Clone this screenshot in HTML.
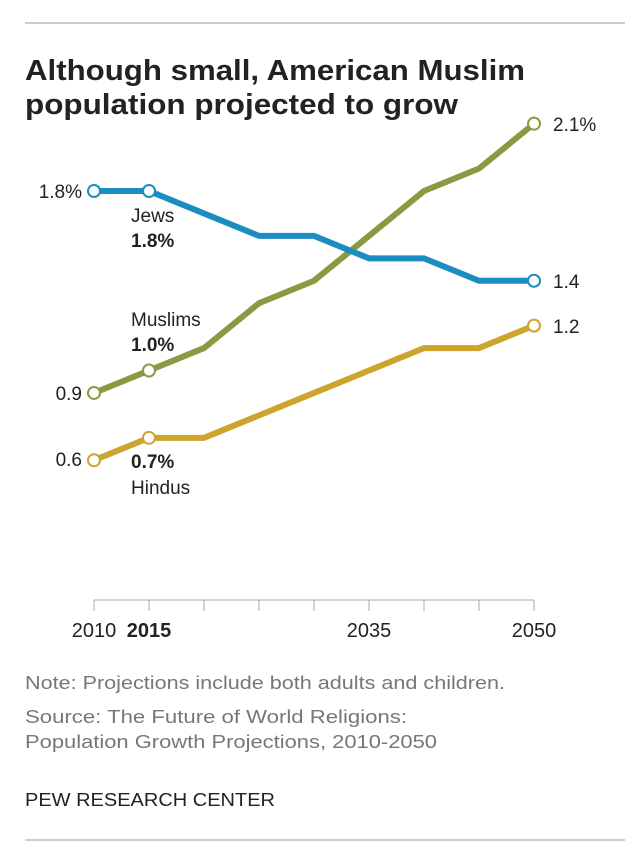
<!DOCTYPE html>
<html><head><meta charset="utf-8"><style>
html,body{margin:0;padding:0;background:#fff;}
svg text{font-family:"Liberation Sans",sans-serif;}
</style></head><body>
<svg width="640" height="856" viewBox="0 0 640 856">
<line x1="25" y1="23" x2="625" y2="23" stroke="#ccc" stroke-width="2"/>
<text x="25" y="80" font-size="29" font-weight="bold" fill="#222" textLength="500" lengthAdjust="spacingAndGlyphs">Although small, American Muslim</text>
<text x="25" y="114" font-size="29" font-weight="bold" fill="#222" textLength="433" lengthAdjust="spacingAndGlyphs">population projected to grow</text>
<g id="plot"></g>
<text x="25" y="689" font-size="18" fill="#777" textLength="480" lengthAdjust="spacingAndGlyphs">Note: Projections include both adults and children.</text>
<text x="25" y="723" font-size="18" fill="#777" textLength="382" lengthAdjust="spacingAndGlyphs">Source: The Future of World Religions:</text>
<text x="25" y="748" font-size="18" fill="#777" textLength="412" lengthAdjust="spacingAndGlyphs">Population Growth Projections, 2010-2050</text>
<text x="25" y="806" font-size="18" fill="#222" textLength="250" lengthAdjust="spacingAndGlyphs">PEW RESEARCH CENTER</text>
<line x1="25" y1="840" x2="625" y2="840" stroke="#ccc" stroke-width="2"/>
</svg>
<script>
const years=[2010,2015,2020,2025,2030,2035,2040,2045,2050];
const jews=[1.8,1.8,1.7,1.6,1.6,1.5,1.5,1.4,1.4];
const muslims=[0.9,1.0,1.1,1.3,1.4,1.6,1.8,1.9,2.1];
const hindus=[0.6,0.7,0.7,0.8,0.9,1.0,1.1,1.1,1.2];
const tickLabels=["2010","2015","2035","2050"];
const ns="http://www.w3.org/2000/svg";
const g=document.getElementById('plot');
const x=y=>94+(y-2010)*11;
const yv=v=>191-(v-1.8)*224.4;
function mk(t,a,p){const e=document.createElementNS(ns,t);for(const k in a)e.setAttribute(k,a[k]);(p||g).appendChild(e);return e;}
let ax=mk('line',{x1:94,y1:600,x2:534,y2:600,stroke:'#aaa','stroke-width':1});


years.forEach(yr=>{const t=mk('line',{x1:x(yr),y1:600,x2:x(yr),y2:611,stroke:'#aaa','stroke-width':1});

});
tickLabels.forEach(l=>{const t=mk('text',{x:x(+l),y:637,'font-size':20,'text-anchor':'middle',fill:'#222','font-weight':l==='2015'?'bold':'normal'});t.textContent=l;

});
const series=[['hindus',hindus,'#cca42e'],['muslims',muslims,'#8a9a42'],['jews',jews,'#1b8dc0']];
series.forEach(([n,d,c])=>{
const p=mk('polyline',{points:d.map((v,i)=>x(years[i])+','+yv(v)).join(' '),fill:'none',stroke:c,'stroke-width':6,'stroke-linejoin':'miter'});


[0,1,8].forEach(i=>{const m=mk('circle',{cx:x(years[i]),cy:yv(d[i]),r:6,fill:'#fff',stroke:c,'stroke-width':2});

});
});
function lab(s,xx,yy,anchor,bold,name){const t=mk('text',{x:xx,y:yy,'font-size':19,fill:'#222','text-anchor':anchor||'start','font-weight':bold?'bold':'normal'});t.textContent=s;

}
lab(jews[0].toFixed(1)+'%',82,198,'end',false,'jews-start-label');
lab(muslims[0].toFixed(1),82,400,'end',false,'muslims-start-label');
lab(hindus[0].toFixed(1),82,466,'end',false,'hindus-start-label');
lab(muslims[8].toFixed(1)+'%',553,131,'start',false,'muslims-end-label');
lab(jews[8].toFixed(1),553,288,'start',false,'jews-end-label');
lab(hindus[8].toFixed(1),553,333,'start',false,'hindus-end-label');
lab('Jews',131,222,'start',false,'jews-name');
lab(jews[1].toFixed(1)+'%',131,247,'start',true,'jews-2015-value');
lab('Muslims',131,326,'start',false,'muslims-name');
lab(muslims[1].toFixed(1)+'%',131,351,'start',true,'muslims-2015-value');
lab(hindus[1].toFixed(1)+'%',131,468,'start',true,'hindus-2015-value');
lab('Hindus',131,494,'start',false,'hindus-name');
</script>
</body></html>
